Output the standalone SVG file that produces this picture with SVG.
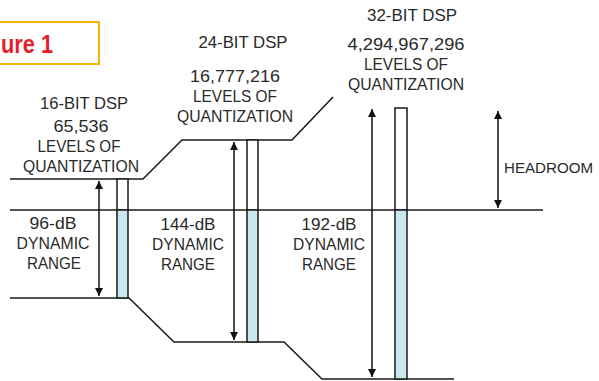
<svg xmlns="http://www.w3.org/2000/svg" width="599" height="381" viewBox="0 0 599 381">
<defs>
<marker id="ah" viewBox="0 0 10 10" refX="10" refY="5" markerWidth="8" markerHeight="8" markerUnits="userSpaceOnUse" orient="auto-start-reverse"><path d="M0,0 L10,5 L0,10 z" fill="#111"/></marker>
<style>
.t{font-family:"Liberation Sans",Arial,sans-serif;font-size:16.5px;fill:#2a2a2a;text-anchor:middle}
.ln{stroke:#1a1a1a;stroke-width:1.5;fill:none}
.ar{stroke:#111;stroke-width:1.5;fill:none;marker-start:url(#ah);marker-end:url(#ah)}
.top{fill:#fff;stroke:#1a1a1a;stroke-width:1.5}
.low{fill:#c9e7ef;stroke:#1a1a1a;stroke-width:1.5}
</style>
</defs>
<rect width="599" height="381" fill="#fff"/>
<g id="figure-label">
<rect x="-3" y="22" width="102" height="42" fill="none" stroke="#f7b500" stroke-width="2"/>
<text x="1" y="53" font-family="'Liberation Sans',Arial,sans-serif" font-weight="bold" font-size="25" fill="#e41f2a" textLength="52" lengthAdjust="spacingAndGlyphs">ure 1</text>
</g>
<g id="connectors">
<polyline class="ln" points="10,179 143,179 182,140 292,140 333,97"/>
<line class="ln" x1="10" y1="210" x2="543" y2="210"/>
<polyline class="ln" points="10,298 129,298 174,342 284,342 322,379 454,379"/>
<line class="ar" x1="99" y1="181" x2="99" y2="296"/>
<line class="ar" x1="234" y1="142" x2="234" y2="340"/>
<line class="ar" x1="372" y1="109" x2="372" y2="377"/>
<line class="ar" x1="498" y1="111" x2="498" y2="208"/>
</g>
<g id="dsp16">
<rect class="top" x="117" y="179" width="11" height="31"/>
<rect class="low" x="117" y="210" width="11" height="88"/>
<text class="t" x="84" y="109" textLength="88" lengthAdjust="spacingAndGlyphs">16-BIT DSP</text>
<text class="t" x="81" y="132" textLength="55" lengthAdjust="spacingAndGlyphs">65,536</text>
<text class="t" x="79" y="152" textLength="83" lengthAdjust="spacingAndGlyphs">LEVELS OF</text>
<text class="t" x="81" y="172" textLength="116" lengthAdjust="spacingAndGlyphs">QUANTIZATION</text>
<text class="t" x="53" y="229" textLength="47" lengthAdjust="spacingAndGlyphs">96-dB</text>
<text class="t" x="53" y="249" textLength="73" lengthAdjust="spacingAndGlyphs">DYNAMIC</text>
<text class="t" x="54" y="269" textLength="54" lengthAdjust="spacingAndGlyphs">RANGE</text>
</g>
<g id="dsp24">
<rect class="top" x="247" y="140" width="11" height="70"/>
<rect class="low" x="247" y="210" width="11" height="132"/>
<text class="t" x="243" y="48" textLength="89" lengthAdjust="spacingAndGlyphs">24-BIT DSP</text>
<text class="t" x="235" y="82" textLength="90" lengthAdjust="spacingAndGlyphs">16,777,216</text>
<text class="t" x="235" y="102" textLength="84" lengthAdjust="spacingAndGlyphs">LEVELS OF</text>
<text class="t" x="235" y="122" textLength="116" lengthAdjust="spacingAndGlyphs">QUANTIZATION</text>
<text class="t" x="188" y="230" textLength="55" lengthAdjust="spacingAndGlyphs">144-dB</text>
<text class="t" x="188" y="250" textLength="72" lengthAdjust="spacingAndGlyphs">DYNAMIC</text>
<text class="t" x="188" y="270" textLength="54" lengthAdjust="spacingAndGlyphs">RANGE</text>
</g>
<g id="dsp32">
<rect class="top" x="395" y="108" width="12" height="102"/>
<rect class="low" x="395" y="210" width="12" height="169"/>
<text class="t" x="412" y="21" textLength="90" lengthAdjust="spacingAndGlyphs">32-BIT DSP</text>
<text class="t" x="406" y="50" textLength="117" lengthAdjust="spacingAndGlyphs">4,294,967,296</text>
<text class="t" x="406" y="70" textLength="84" lengthAdjust="spacingAndGlyphs">LEVELS OF</text>
<text class="t" x="406" y="90" textLength="116" lengthAdjust="spacingAndGlyphs">QUANTIZATION</text>
<text class="t" x="329" y="230" textLength="55" lengthAdjust="spacingAndGlyphs">192-dB</text>
<text class="t" x="329" y="250" textLength="72" lengthAdjust="spacingAndGlyphs">DYNAMIC</text>
<text class="t" x="329" y="270" textLength="54" lengthAdjust="spacingAndGlyphs">RANGE</text>
</g>
<g id="headroom">
<text class="t" x="504" y="173" style="text-anchor:start;font-size:15.3px" textLength="89" lengthAdjust="spacingAndGlyphs">HEADROOM</text>
</g>
</svg>
